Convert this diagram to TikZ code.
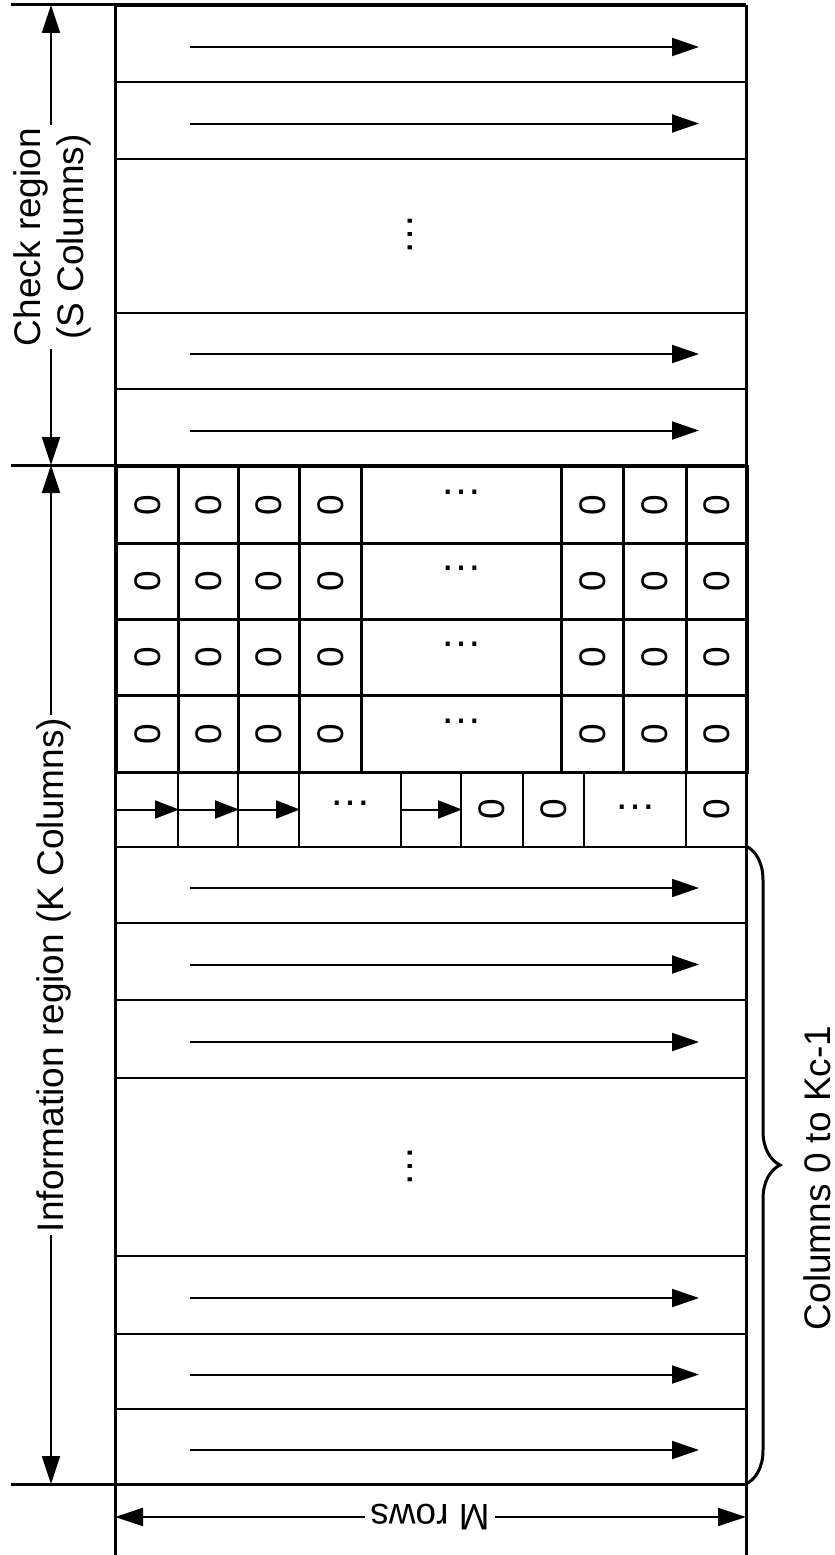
\documentclass[tikz,border=0pt]{standalone}
\usepackage{fontspec}
\setmainfont{Liberation Sans}
\usetikzlibrary{arrows.meta,decorations.pathreplacing}
\newcommand\zeroglyph{\rotatebox{90}{0}}
\begin{document}
\begin{tikzpicture}[x=1pt,y=-1pt,
  font=\fontsize{37}{43}\selectfont,
  cell/.style={draw,line width=2pt,inner sep=0pt,anchor=north west},
  gcell/.style={cell,line width=2.6pt},
  border/.style={line width=3pt},
  rowarr/.style={line width=2pt,-{Triangle[length=27pt,width=18pt]}},
  cellarr/.style={line width=2pt,-{Triangle[length=24pt,width=18pt]}},
  dim/.style={line width=2pt,-{Triangle[length=28pt,width=18pt]}},
  txt/.style={inner sep=3pt},
  dotsym/.style={inner sep=0pt,font=\fontsize{42}{42}\selectfont}
]
\useasboundingbox (0,0) rectangle (835,1555);

% check region rows
\foreach \n/\a/\b in {c1/5/81, c2/81/158, c3/158/312, c4/312/388, c5/388/465}
  \node[cell,minimum width=631pt,minimum height={\b-\a}] (\n) at (115,\a) {};
\foreach \n in {c1,c2,c4,c5}
  \draw[rowarr] ([xshift=75pt,yshift=-3pt]\n.west) -- ([xshift=-49pt,yshift=-3pt]\n.east);
\node[dotsym,rotate=90] (cdots) at (410,234) {…};

% zero grid
\foreach \r/\ya/\yb in {1/465/542, 2/542/618, 3/618/694, 4/694/771} {
  \foreach \c/\xa/\xb in {1/115/177, 2/177/237, 3/237/298, 4/298/360, 6/560/622, 7/622/685, 8/685/746}
    \node[gcell,minimum width={\xb-\xa},minimum height={\yb-\ya}] (g\r\c) at (\xa,\ya) {\zeroglyph};
  \node[gcell,minimum width=200pt,minimum height={\yb-\ya}] (g\r5) at (360,\ya) {};
  \node[dotsym] (gd\r) at ([yshift=13pt]g\r5.center) {…};
}

% arrow row
\foreach \n/\xa/\xb in {a1/115/177, a2/177/237, a3/237/298, a4/298/400, a5/400/460, a6/460/522, a7/522/583, a8/583/685, a9/685/746}
  \node[cell,minimum width={\xb-\xa},minimum height=75pt] (\n) at (\xa,771) {};
\foreach \n in {a1,a2,a3,a5}
  \draw[cellarr] (\n.west) -- (\n.east);
\foreach \n in {a6,a7,a9}
  \node (\n z) at (\n.center) {\zeroglyph};
\node[dotsym] (a4d) at ([yshift=6pt]a4.center) {…};
\node[dotsym] (a8d) at ([yshift=2pt]a8.center) {…};

% information rows
\foreach \n/\a/\b in {i1/846/922, i2/922/999, i3/999/1077, i4/1077/1255, i5/1255/1333, i6/1333/1408, i7/1408/1484}
  \node[cell,minimum width=631pt,minimum height={\b-\a}] (\n) at (115,\a) {};
\foreach \n in {i1,i2,i3,i5,i6,i7}
  \draw[rowarr] ([xshift=75pt,yshift=-3pt]\n.west) -- ([xshift=-49pt,yshift=-3pt]\n.east);
\node[dotsym,rotate=90] (idots) at (410,1166) {…};

% outer borders and extension lines
\coordinate (ctop) at (51,5);
\coordinate (cmid) at (51,465);
\coordinate (cbot) at (51,1484);
\coordinate (ltop) at (115,5);
\coordinate (lbot) at (115,1555);
\coordinate (rtop) at (746,5);
\coordinate (rbot) at (746,1555);
\draw[border] (ltop) -- (lbot);
\draw[border] (rtop) -- (rbot);
\draw[border] (11,5) -- (rtop);
\draw[border] (11,465) -- (746,465);
\draw[border] (11,1484) -- (746,1484);

% dimension: check region
\node[txt,rotate=90,align=center] (chk) at (52,237) {Check region\\(S Columns)};
\draw[dim] (chk.east -| ctop) -- (ctop);
\draw[dim] (chk.west -| cmid) -- (cmid);

% dimension: information region
\node[txt,rotate=90] (info) at (53.5,975) {Information region (K Columns)};
\draw[dim] (info.east -| cmid) -- (cmid);
\draw[dim] (info.west -| cbot) -- (cbot);

% dimension: M rows
\coordinate (ml) at (115,1517);
\coordinate (mr) at (746,1517);
\node[txt,inner sep=5pt,rotate=180] (mrows) at (430,1517) {M rows};
\draw[dim] (mrows.east |- ml) -- (ml);
\draw[dim] (mrows.west |- mr) -- (mr);

% brace
\coordinate (bt) at (746,846);
\coordinate (bb) at (746,1484);
\draw[line width=3pt,decorate,decoration={brace,amplitude=34pt}] (bt) -- (bb);
\node[rotate=90] (cols) at (817,1178) {Columns 0 to Kc-1};
\end{tikzpicture}
\end{document}
